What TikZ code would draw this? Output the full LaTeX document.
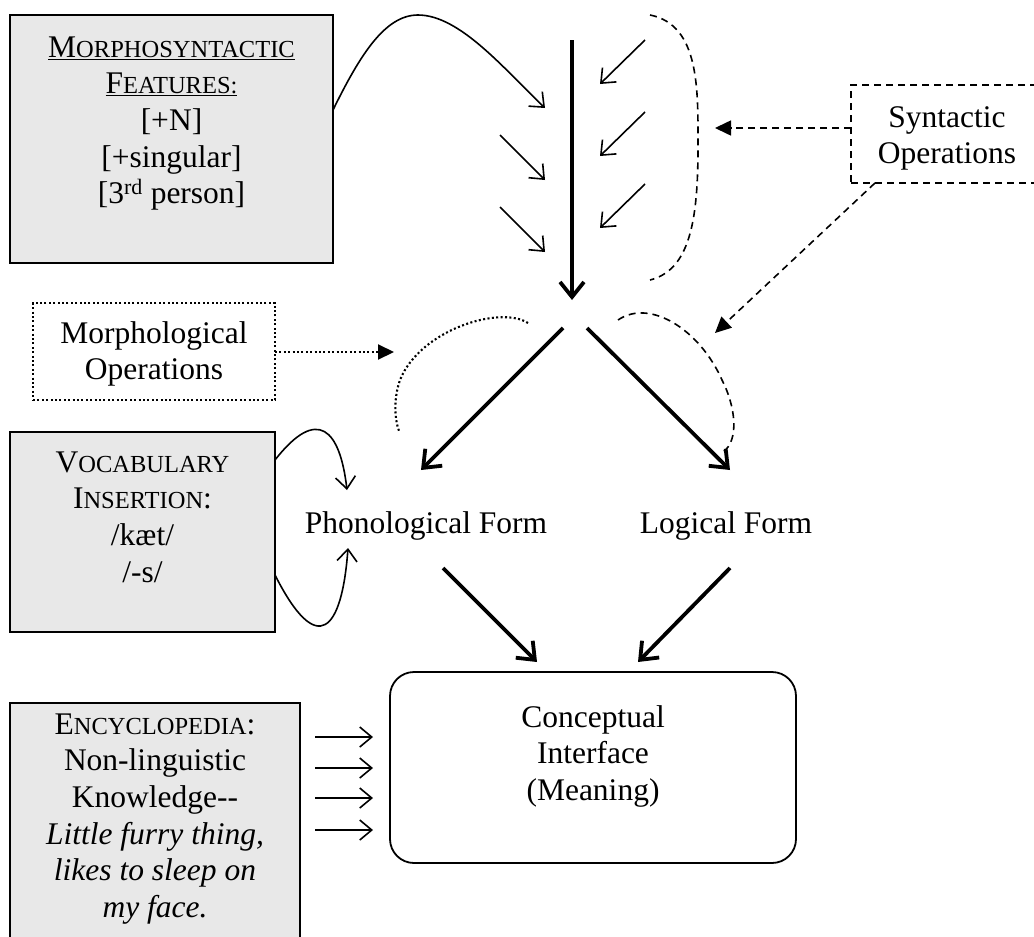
\documentclass[tikz,border=0pt]{standalone}
\usepackage{fontspec}
\setmainfont{Liberation Serif}
\usetikzlibrary{arrows.meta}
\definecolor{boxgray}{RGB}{232,232,232}
\newcommand{\bigtxt}{\fontsize{31.5}{36.7}\selectfont}
% hand-made small capitals: full-size initial, reduced capitals after it
\newcommand{\scap}[2]{#1{\fontsize{24.5}{36.7}\selectfont #2}}
\begin{document}
\begin{tikzpicture}[x=1pt,y=-1pt,
  txt/.style={font=\bigtxt, align=center, inner sep=0pt},
  box/.style={draw, line width=1.8pt, inner sep=0pt},
  graybox/.style={box, fill=boxgray},
  thinarrow/.style={line width=1.6pt, -{Straight Barb[length=12pt,width=20pt]}},
  thickarrow/.style={line width=3.8pt, -{Straight Barb[length=15pt,width=24pt]}},
  dashline/.style={line width=1.6pt, dash pattern=on 7pt off 5pt},
  dotline/.style={line width=2.1pt, dash pattern=on 2pt off 2.4pt},
  solidtip/.style={-{Triangle[length=16pt,width=15pt]}},
]
\useasboundingbox (0,0) rectangle (1034,937);

% ---------- boxes ----------
\node[graybox, minimum width=323pt, minimum height=248pt] (msf) at (171.5,139) {};
\node[box, dashline, minimum width=194pt, minimum height=98pt] (synt) at (948,134) {};
\node[box, dotline, minimum width=242pt, minimum height=97pt] (mops) at (154,351.5) {};
\node[graybox, minimum width=265pt, minimum height=200pt] (voc) at (142.5,532) {};
\node[graybox, minimum width=290pt, minimum height=247pt] (ency) at (155,826.5) {};
\node[box, rounded corners=24pt, minimum width=406pt, minimum height=191pt] (ci) at (593,767.5) {};

% ---------- texts ----------
\node[txt, anchor=north] (msftext) at (171.5,31.3)
  {\strut\underline{\scap{M}{ORPHOSYNTACTIC}}\\ \underline{\scap{F}{EATURES:}}\\ {[+N]}\\ {[+singular]}\\ {[3\textsuperscript{rd} person]}};
\node[txt, anchor=north] (synttext) at (947,101.3) {\strut Syntactic\\Operations};
\node[txt, anchor=north] (mopstext) at (154,317.3) {\strut Morphological\\Operations};
\node[txt, anchor=north] (voctext) at (142.5,446.3)
  {\strut\scap{V}{OCABULARY}\\ \scap{I}{NSERTION}:\\ /kæt/\\ /-s/};
\node[txt, anchor=north] (encytext) at (155,708.3)
  {\strut\scap{E}{NCYCLOPEDIA}:\\ Non-linguistic\\ Knowledge-{}-\\ \textit{Little furry thing,}\\ \textit{likes to sleep on}\\ \textit{my face.}};
\node[txt, anchor=north] (citext) at (593,701.3) {\strut Conceptual\\Interface\\(Meaning)};
\node[txt, anchor=base] (pf) at (426,533) {Phonological Form};
\node[txt, anchor=base] (lf) at (726,533) {Logical Form};

% ---------- end points ----------
\coordinate (msfout) at (333,110);
\coordinate (msfin) at (545,108);
\coordinate (derivtop) at (572,40);
\coordinate (spellout) at (572,300);
\coordinate (lsplit) at (563,328);
\coordinate (rsplit) at (587,328);
\coordinate (pftip) at (421,470);
\coordinate (lftip) at (730,470);
\coordinate (pfout) at (443,568);
\coordinate (lfout) at (730,568);
\coordinate (ciinl) at (537,662);
\coordinate (ciinr) at (638,662);
\coordinate (loopa) at (650,15);
\coordinate (loopb) at (650,280);
\coordinate (syntl) at (851,128);
\coordinate (syntb) at (875,183);
\coordinate (synttipa) at (715,128);
\coordinate (synttipb) at (715,333);
\coordinate (mopsr) at (275,352);
\coordinate (mopstip) at (394,352);
\coordinate (dotsa) at (528,323);
\coordinate (dotsb) at (399,431);
\coordinate (dasha) at (618,320);
\coordinate (dashb) at (723,452);
\coordinate (voca) at (275,460);
\coordinate (vocb) at (275,575);
\coordinate (voctipa) at (347,490);
\coordinate (voctipb) at (348,548);

% ---------- syntax: main derivation ----------
\draw[thickarrow] (derivtop) -- (spellout);
\draw[thickarrow] (lsplit) -- (pftip);
\draw[thickarrow] (rsplit) -- (lftip);
\draw[thickarrow] (pfout) -- (ciinl);
\draw[thickarrow] (lfout) -- (ciinr);

% features feeding the derivation
\draw[thinarrow] (msfout) .. controls (360,55) and (385,15) .. (418,15)
  .. controls (460,15) and (505,70) .. (msfin);
\foreach \y in {135,207}
  \draw[thinarrow] (500,\y) coordinate (fa\y) -- (545,\y+45) coordinate (fb\y);
\foreach \y in {40,112,184}
  \draw[thinarrow] (645,\y) coordinate (sa\y) -- (600,\y+44) coordinate (sb\y);

% syntactic operations
\draw[dashline] (loopa) .. controls (700,25) and (698,90) .. (698,147)
  .. controls (698,220) and (690,270) .. (loopb);
\draw[dashline, solidtip] (syntl) -- (synttipa);
\draw[dashline, solidtip] (syntb) -- (synttipb);
\draw[dashline] (dasha) .. controls (650,298) and (700,330) .. (722,380)
  .. controls (735,405) and (740,440) .. (dashb);

% morphological operations
\draw[dotline, solidtip] (mopsr) -- (mopstip);
\draw[dotline] (dotsa) .. controls (500,305) and (420,330) .. (400,380)
  .. controls (393,400) and (395,420) .. (dotsb);

% vocabulary insertion
\draw[thinarrow] (voca) .. controls (318,405) and (340,430) .. (voctipa);
\draw[thinarrow] (vocb) .. controls (318,660) and (342,630) .. (voctipb);

% encyclopedia
\foreach \y in {737,768,798,830}
  \draw[thinarrow] (315,\y) coordinate (ea\y) -- (373,\y) coordinate (eb\y);
\end{tikzpicture}
\end{document}
